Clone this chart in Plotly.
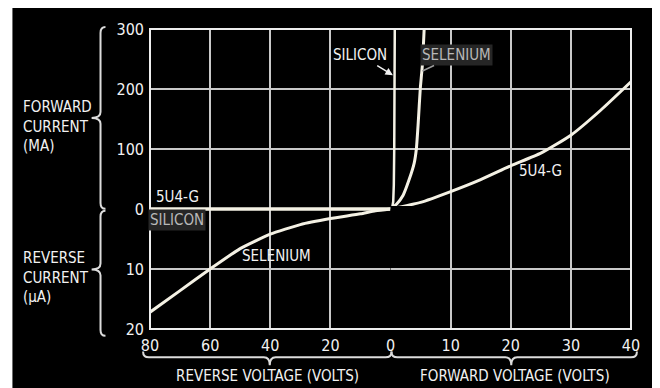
import plotly.graph_objects as go

# ---------------- data ----------------
# Forward characteristics: volts -> mA
fwd_5u4_v = [0, 5, 10, 15, 20, 25, 30, 35, 40]
fwd_5u4_ma = [0, 11, 29, 49, 72, 93, 123, 165, 212]
fwd_si_v = [0, 0.3, 0.45, 0.55, 0.62, 0.68, 0.72]
fwd_si_ma = [0, 3, 12, 40, 100, 200, 320]
fwd_se_v = [0, 1.0, 2.1, 3.1, 3.95, 4.3, 4.6, 4.95, 5.3, 5.6]
fwd_se_ma = [0, 8, 23, 49, 77, 100, 142, 200, 240, 300]

# Reverse characteristics: volts -> microamperes
rev_5u4_v = [0, 80]
rev_5u4_ua = [0, 0]
rev_si_v = [0, 80]
rev_si_ua = [0, 0]
rev_se_v = [0, 5, 10, 20, 30, 40, 50, 60, 70, 80]
rev_se_ua = [0, 0.3, 0.8, 1.6, 2.6, 4.2, 6.6, 10, 13.6, 17.2]

# tick labels
rev_v_ticks = [80, 60, 40, 20, 0]
fwd_v_ticks = [10, 20, 30, 40]
fwd_i_ticks = [0, 100, 200, 300]
rev_i_ticks = [10, 20]

# ---------------- geometry / style ----------------
# the page body has an 8px margin, so the figure is drawn at (8, 8)
OFF = 8
W, H = 660 - OFF - 8, 388 - OFF          # 644 x 380, ends at x=652 like the scan
PL, PR, PT, PB = 150, 636, 22, 329        # plot area in window pixels
ML, MR, MT, MB = PL - OFF, (W + OFF) - PR, PT - OFF, (H + OFF) - PB
PW = PR - PL
PH = PB - PT


def px(x):
    return (x - PL) / PW


def py(y):
    return (PB - y) / PH


FONT = "DejaVu Sans Condensed, Liberation Sans, sans-serif"
CURVE = "#f4f1e4"
GRID = "#c9c9c9"
TXT = "#f2f2f2"

fig = go.Figure()

line_style = dict(color=CURVE, width=3, shape="spline", smoothing=0.5)

# forward curves (x2, y)
fig.add_trace(go.Scatter(x=fwd_5u4_v, y=fwd_5u4_ma, xaxis="x2", yaxis="y",
                         mode="lines", line=line_style, name="5U4-G", hoverinfo="skip"))
fig.add_trace(go.Scatter(x=fwd_si_v, y=fwd_si_ma, xaxis="x2", yaxis="y",
                         mode="lines", line=dict(color=CURVE, width=2.5), name="Silicon", hoverinfo="skip"))
fig.add_trace(go.Scatter(x=fwd_se_v, y=fwd_se_ma, xaxis="x2", yaxis="y",
                         mode="lines", line=line_style, name="Selenium", hoverinfo="skip"))
# reverse curves (x, y2)
fig.add_trace(go.Scatter(x=rev_5u4_v, y=rev_5u4_ua, xaxis="x", yaxis="y2",
                         mode="lines", line=dict(color=CURVE, width=3), name="5U4-G rev", hoverinfo="skip"))
fig.add_trace(go.Scatter(x=rev_si_v, y=rev_si_ua, xaxis="x", yaxis="y2",
                         mode="lines", line=dict(color=CURVE, width=3), name="Silicon rev", hoverinfo="skip"))
fig.add_trace(go.Scatter(x=rev_se_v, y=rev_se_ua, xaxis="x", yaxis="y2",
                         mode="lines", line=line_style, name="Selenium rev", hoverinfo="skip"))
# empty traces so that the other two quadrants get their grid
fig.add_trace(go.Scatter(x=[None], y=[None], xaxis="x", yaxis="y", hoverinfo="skip"))
fig.add_trace(go.Scatter(x=[None], y=[None], xaxis="x2", yaxis="y2", hoverinfo="skip"))

axis_common = dict(showgrid=True, gridcolor=GRID, gridwidth=1.5, zeroline=False,
                   showline=False, ticks="", tickfont=dict(family=FONT, size=16, color=TXT),
                   ticklabelstandoff=5, fixedrange=True)

fig.update_layout(
    width=W, height=H,
    margin=dict(l=ML, r=MR, t=MT, b=MB, pad=0),
    paper_bgcolor="black", plot_bgcolor="black",
    showlegend=False,
    xaxis=dict(domain=[0, 0.5], range=[80, 0], anchor="y2", tickmode="array",
               tickvals=rev_v_ticks, ticktext=[str(v) for v in rev_v_ticks], **axis_common),
    xaxis2=dict(domain=[0.5, 1], range=[0, 40], anchor="y2", tickmode="array",
                tickvals=fwd_v_ticks, ticktext=[str(v) for v in fwd_v_ticks], **axis_common),
    yaxis=dict(domain=[0.4, 1], range=[0, 300], anchor="x", tickmode="array",
               tickvals=fwd_i_ticks, ticktext=[str(v) for v in fwd_i_ticks], **axis_common),
    yaxis2=dict(domain=[0, 0.41], range=[20, -0.5], anchor="x", tickmode="array",
                tickvals=rev_i_ticks, ticktext=[str(v) for v in rev_i_ticks], **axis_common),
)

shapes = []
# thin white strip of the scanned page at the left
shapes.append(dict(type="rect", xref="paper", yref="paper", layer="below",
                   x0=px(0), x1=px(11), y0=py(400), y1=py(0),
                   fillcolor="white", line=dict(width=0)))
# plot border
shapes.append(dict(type="rect", xref="paper", yref="paper", x0=0, x1=1, y0=0, y1=1,
                   line=dict(color="#eeeeee", width=2)))


def P(x, y):
    return f"{px(x):.5f},{py(y):.5f}"


def vbrace(x, y0, y1, ytip, d=9):
    return ("M " + P(x + 5, y0) + " Q " + P(x, y0) + " " + P(x, y0 + 6) +
            " L " + P(x, ytip - 6) + " Q " + P(x, ytip) + " " + P(x - d, ytip) +
            " Q " + P(x, ytip) + " " + P(x, ytip + 6) +
            " L " + P(x, y1 - 6) + " Q " + P(x, y1) + " " + P(x + 5, y1))


def hbrace(y, x0, x1, xtip, d=8):
    return ("M " + P(x0, y - 6) + " Q " + P(x0, y) + " " + P(x0 + 6, y) +
            " L " + P(xtip - 6, y) + " Q " + P(xtip, y) + " " + P(xtip, y + d) +
            " Q " + P(xtip, y) + " " + P(xtip + 6, y) +
            " L " + P(x1 - 6, y) + " Q " + P(x1, y) + " " + P(x1, y - 6))


brace_line = dict(color="#dcdcdc", width=2)
for path in [vbrace(100, 20, 206, 113), vbrace(100, 208, 336, 268),
             hbrace(358, 143, 394, 271), hbrace(358, 394, 642, 515)]:
    shapes.append(dict(type="path", xref="paper", yref="paper", path=path, line=brace_line))

fig.update_layout(shapes=shapes)

ann = []
f14 = dict(family=FONT, size=15, color=TXT)
gray = dict(family=FONT, size=15, color="#b8b8b8")

ann.append(dict(xref="paper", yref="paper", x=px(20), y=py(122), xanchor="left", yanchor="middle",
                align="left", showarrow=False, text="FORWARD<br>CURRENT<br>(MA)", font=f14))
ann.append(dict(xref="paper", yref="paper", x=px(20), y=py(276), xanchor="left", yanchor="middle",
                align="left", showarrow=False, text="REVERSE<br>CURRENT<br>(μA)", font=f14))
ann.append(dict(xref="paper", yref="paper", x=px(269), y=py(377), xanchor="center", yanchor="middle",
                showarrow=False, text="REVERSE VOLTAGE (VOLTS)", font=f14))
ann.append(dict(xref="paper", yref="paper", x=px(519), y=py(377), xanchor="center", yanchor="middle",
                showarrow=False, text="FORWARD VOLTAGE (VOLTS)", font=f14))

# curve labels
ann.append(dict(xref="x2", yref="y", x=0.4, y=223, ax=-33, ay=-20, text="SILICON",
                showarrow=True, arrowhead=2, arrowsize=1, arrowwidth=1.5, arrowcolor=TXT, font=f14))
ann.append(dict(xref="x2", yref="y", x=5.3, y=230, ax=34, ay=-16, text="SELENIUM",
                showarrow=True, arrowhead=0, arrowwidth=1.5, arrowcolor="#9a9a9a", font=gray,
                bgcolor="#262626"))
ann.append(dict(xref="x2", yref="y", x=25, y=64, text="5U4-G", showarrow=False, font=f14))
ann.append(dict(xref="x", yref="y", x=71, y=20, text="5U4-G", showarrow=False, font=f14))
ann.append(dict(xref="x", yref="y2", x=71, y=1.8, text="SILICON", showarrow=False, font=gray,
                bgcolor="#262626"))
ann.append(dict(xref="x", yref="y2", x=38, y=7.8, text="SELENIUM", showarrow=False, font=f14))

fig.update_layout(annotations=ann)

fig.write_html("out.html")
